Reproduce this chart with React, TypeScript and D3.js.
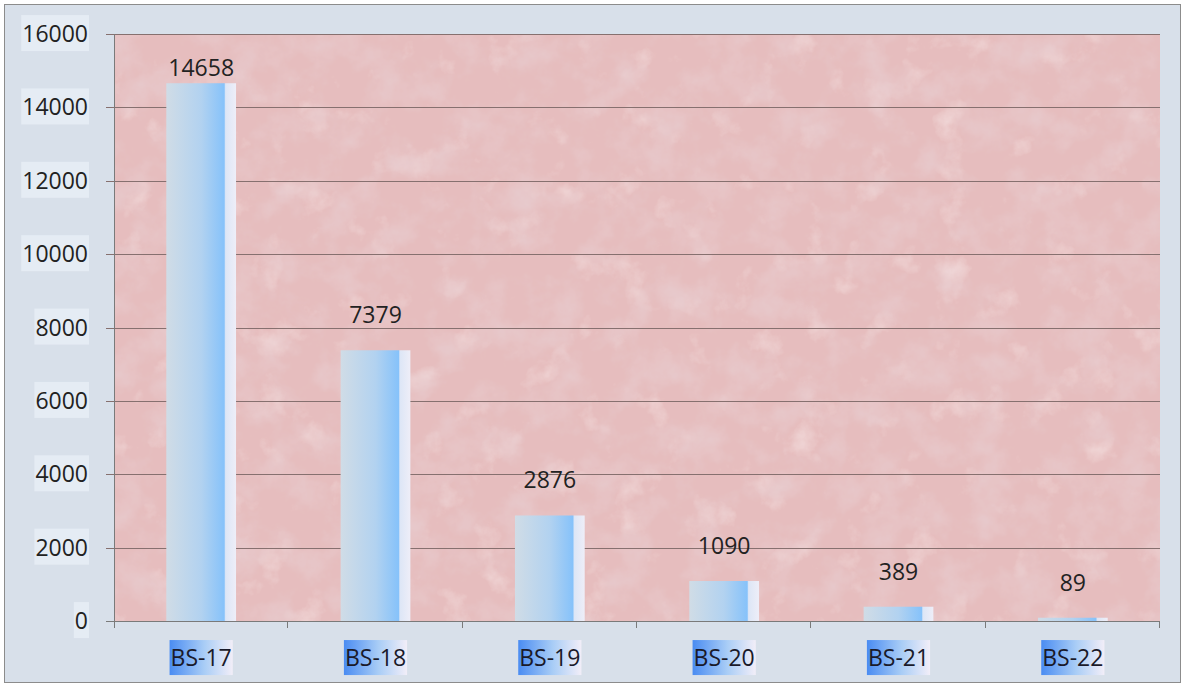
import React, { useEffect, useRef } from 'react';
import * as d3 from 'd3';

const categories = ['BS-17', 'BS-18', 'BS-19', 'BS-20', 'BS-21', 'BS-22'];
const values = [14658, 7379, 2876, 1090, 389, 89];
const yTicks = [0, 2000, 4000, 6000, 8000, 10000, 12000, 14000, 16000];

const App = () => {
  const ref = useRef(null);

  useEffect(() => {
    document.body.style.margin = '0';
    const W = 1185, H = 687;
    const margin = { top: 34, right: 25, bottom: 66, left: 114 };
    const width = W - margin.left - margin.right;
    const height = H - margin.top - margin.bottom;
    const font = '"Open Sans", "Noto Sans", sans-serif';

    d3.select(ref.current).selectAll('*').remove();
    const root = d3.select(ref.current)
      .append('svg')
      .attr('width', W)
      .attr('height', H)
      .style('display', 'block');

    const defs = root.append('defs');
    // bar gradient: grey-blue -> blue -> pale stripe
    const bg = defs.append('linearGradient').attr('id', 'barGrad').attr('x1', 0).attr('x2', 1).attr('y1', 0).attr('y2', 0);
    bg.append('stop').attr('offset', '0%').attr('stop-color', '#d0dce6');
    bg.append('stop').attr('offset', '50%').attr('stop-color', '#b2d2f0');
    bg.append('stop').attr('offset', '83%').attr('stop-color', '#86c2fa');
    bg.append('stop').attr('offset', '85%').attr('stop-color', '#dde6f6');
    bg.append('stop').attr('offset', '100%').attr('stop-color', '#eeeef8');

    const lg = defs.append('linearGradient').attr('id', 'lblGrad').attr('x1', 0).attr('x2', 1).attr('y1', 0).attr('y2', 0);
    lg.append('stop').attr('offset', '0%').attr('stop-color', '#4a8cf2');
    lg.append('stop').attr('offset', '55%').attr('stop-color', '#a9cdf6');
    lg.append('stop').attr('offset', '100%').attr('stop-color', '#f2eef8');

    // mottled pink paper texture: soft dark + light blotches
    const f = defs.append('filter').attr('id', 'paper').attr('x', 0).attr('y', 0).attr('width', '100%').attr('height', '100%');
    f.append('feTurbulence').attr('type', 'fractalNoise').attr('baseFrequency', 0.028).attr('numOctaves', 5).attr('seed', 11).attr('result', 'noise');
    f.append('feColorMatrix').attr('in', 'noise').attr('type', 'matrix')
      .attr('values', '0 0 0 0 0.80  0 0 0 0 0.60  0 0 0 0 0.62  1.7 0 0 0 -0.72')
      .attr('result', 'dark');
    f.append('feColorMatrix').attr('in', 'noise').attr('type', 'matrix')
      .attr('values', '0 0 0 0 0.95  0 0 0 0 0.84  0 0 0 0 0.84  0 -1.4 0 0 0.55')
      .attr('result', 'light');
    f.append('feMerge').call(m => {
      m.append('feMergeNode').attr('in', 'SourceGraphic');
      m.append('feMergeNode').attr('in', 'light');
      m.append('feMergeNode').attr('in', 'dark');
    });

    // outer frame
    root.append('rect')
      .attr('x', 4.5).attr('y', 4.5)
      .attr('width', W - 9).attr('height', H - 9)
      .attr('fill', '#d8e0ea')
      .attr('stroke', '#8c8c8c');

    const svg = root.append('g').attr('transform', `translate(${margin.left},${margin.top})`);

    const x = d3.scaleBand().domain(categories).range([0, width]).paddingInner(0.6).paddingOuter(0.3);
    const y = d3.scaleLinear().domain([0, 16000]).range([height, 0]);

    // plot background
    svg.append('rect')
      .attr('width', width).attr('height', height)
      .attr('fill', '#e6bdbe')
      .attr('filter', 'url(#paper)');

    // gridlines
    svg.append('g')
      .selectAll('line')
      .data(yTicks.filter(d => d > 0))
      .enter()
      .append('line')
      .attr('x1', -8).attr('x2', width)
      .attr('y1', d => Math.round(y(d)) + 0.5).attr('y2', d => Math.round(y(d)) + 0.5)
      .attr('stroke', '#86706f').attr('stroke-width', 1);

    // bars
    svg.selectAll('.bar')
      .data(values)
      .enter()
      .append('rect')
      .attr('class', 'bar')
      .attr('x', (d, i) => x(categories[i]))
      .attr('y', d => y(d))
      .attr('width', x.bandwidth())
      .attr('height', d => height - y(d))
      .attr('fill', 'url(#barGrad)');

    // value labels
    svg.selectAll('.val')
      .data(values)
      .enter()
      .append('text')
      .attr('class', 'val')
      .attr('x', (d, i) => x(categories[i]) + x.bandwidth() / 2)
      .attr('y', d => Math.max(y(d) - 27, 42))
      .attr('text-anchor', 'middle')
      .style('font-family', font)
      .style('font-size', '23px')
      .attr('fill', '#222')
      .text(d => d);

    // axes lines
    svg.append('line')
      .attr('x1', 0.5).attr('x2', 0.5).attr('y1', 0).attr('y2', height + 7)
      .attr('stroke', '#7a7a7a');
    svg.append('line')
      .attr('x1', -8).attr('x2', width).attr('y1', height + 0.5).attr('y2', height + 0.5)
      .attr('stroke', '#7a7a7a');

    // x ticks at category boundaries
    const step = x.step();
    svg.append('g')
      .selectAll('line')
      .data(d3.range(1, categories.length + 1))
      .enter()
      .append('line')
      .attr('x1', i => Math.round(i * step) - 0.5).attr('x2', i => Math.round(i * step) - 0.5)
      .attr('y1', height).attr('y2', height + 7)
      .attr('stroke', '#7a7a7a');

    // y tick labels with pale boxes
    const yl = svg.append('g');
    yTicks.forEach(t => {
      const g = yl.append('g').attr('transform', `translate(-26,${y(t)})`);
      const txt = g.append('text')
        .attr('text-anchor', 'end')
        .attr('dy', '0.35em')
        .style('font-family', font)
        .style('font-size', '23px')
        .attr('fill', '#222')
        .text(t);
      const bb = txt.node().getBBox();
      g.insert('rect', 'text')
        .attr('x', bb.x - 1).attr('y', bb.y - 2)
        .attr('width', bb.width + 2).attr('height', bb.height + 4)
        .attr('fill', '#e5ecf4');
    });

    // x labels with gradient boxes
    const xl = svg.append('g');
    categories.forEach(c => {
      const g = xl.append('g').attr('transform', `translate(${x(c) + x.bandwidth() / 2},${height + 37})`);
      const txt = g.append('text')
        .attr('text-anchor', 'middle')
        .attr('dy', '0.35em')
        .style('font-family', font)
        .style('font-size', '23px')
        .attr('fill', '#1a1a2a')
        .text(c);
      const bb = txt.node().getBBox();
      g.insert('rect', 'text')
        .attr('x', bb.x - 1).attr('y', bb.y - 1)
        .attr('width', bb.width + 2).attr('height', bb.height + 3)
        .attr('fill', 'url(#lblGrad)');
    });
  }, []);

  return <div ref={ref} />;
};

export default App;
